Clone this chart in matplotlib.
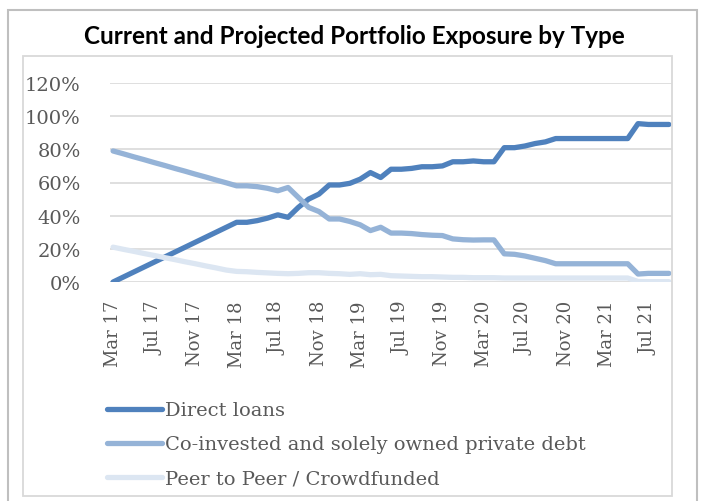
"""
plot.py

Current and projected portfolio exposure by type, monthly Mar 17 - Sep 21.
"""

import matplotlib

matplotlib.use("Agg")
import matplotlib.pyplot as plt
import matplotlib.ticker as mtick
from matplotlib.patches import Rectangle

# monthly labels, Mar 17 .. Sep 21
months = [
    "Mar 17", "Apr 17", "May 17", "Jun 17", "Jul 17", "Aug 17", "Sep 17", "Oct 17",
    "Nov 17", "Dec 17", "Jan 18", "Feb 18", "Mar 18", "Apr 18", "May 18", "Jun 18",
    "Jul 18", "Aug 18", "Sep 18", "Oct 18", "Nov 18", "Dec 18", "Jan 19", "Feb 19",
    "Mar 19", "Apr 19", "May 19", "Jun 19", "Jul 19", "Aug 19", "Sep 19", "Oct 19",
    "Nov 19", "Dec 19", "Jan 20", "Feb 20", "Mar 20", "Apr 20", "May 20", "Jun 20",
    "Jul 20", "Aug 20", "Sep 20", "Oct 20", "Nov 20", "Dec 20", "Jan 21", "Feb 21",
    "Mar 21", "Apr 21", "May 21", "Jun 21", "Jul 21", "Aug 21", "Sep 21",
]

direct_loans = [
    0, 3, 6, 9, 12, 15, 18, 21, 24, 27, 30, 33, 36, 36, 37, 38.5,
    40.5, 39, 45, 50, 53, 58.5, 58.5, 59.5, 62, 66, 63, 68, 68, 68.5, 69.5, 69.5,
    70, 72.5, 72.5, 73, 72.5, 72.5, 81, 81, 82, 83.5, 84.5, 86.5, 86.5, 86.5, 86.5, 86.5,
    86.5, 86.5, 86.5, 95.5, 95, 95, 95,
]

co_invested = [
    79, 77.3, 75.5, 73.8, 72, 70.3, 68.5, 66.8, 65, 63.3, 61.5, 59.8, 58, 58, 57.5, 56.5,
    55, 57, 51, 45, 42.5, 38, 38, 36.5, 34.5, 31, 33, 29.5, 29.5, 29.2, 28.6, 28.2,
    28, 26, 25.5, 25.3, 25.4, 25.4, 17, 16.7, 15.7, 14.3, 12.9, 11, 11, 11, 11, 11,
    11, 11, 11, 4.8, 5.2, 5.2, 5.2,
]

peer_to_peer = [
    21, 19.7, 18.5, 17.2, 16, 14.7, 13.5, 12.2, 11, 9.7, 8.5, 7.2, 6.4, 6.2, 5.8, 5.5,
    5.2, 5.0, 5.2, 5.6, 5.6, 5.2, 5.0, 4.6, 5.0, 4.4, 4.6, 3.8, 3.6, 3.4, 3.2, 3.2,
    3.0, 2.8, 2.8, 2.6, 2.6, 2.6, 2.4, 2.4, 2.4, 2.4, 2.4, 2.4, 2.4, 2.4, 2.4, 2.4,
    2.4, 2.4, 2.4, 0.3, 0.2, 0.2, 0.2,
]

series = [
    ("Direct loans", direct_loans, "#4F81BD"),
    ("Co-invested and solely owned private debt", co_invested, "#95B3D7"),
    ("Peer to Peer / Crowdfunded", peer_to_peer, "#DCE6F2"),
]

TEXT_GREY = "#595959"
GRID_GREY = "#D9D9D9"
W, H = 702, 502

plt.rcParams["font.family"] = ["DejaVu Serif"]

fig = plt.figure(figsize=(W / 100, H / 100), dpi=100)
fig.patch.set_facecolor("white")

# outer chart border and inner plot-area frame
fig.add_artist(
    Rectangle((8 / W, -0.02), 689 / W, 1.02 - 11 / H, transform=fig.transFigure,
              fill=False, edgecolor="#BFBFBF", linewidth=1.5)
)
fig.add_artist(
    Rectangle((23 / W, 5 / H), 649 / W, (H - 57 - 5) / H, transform=fig.transFigure,
              fill=False, edgecolor=GRID_GREY, linewidth=1.3)
)

fig.text(354 / W, 1 - 37 / H, "Current and Projected Portfolio Exposure by Type",
         family="Lato", weight="bold", fontsize=17.5, ha="center", va="center",
         color="black")

ax = fig.add_axes([110 / W, (H - 283) / H, 562 / W, 199 / H])
x = list(range(len(months)))
for label, values, colour in series:
    ax.plot(x, [v / 100 for v in values], color=colour, linewidth=3.8, label=label,
            solid_capstyle="round", solid_joinstyle="round")

ax.set_xlim(-0.3, len(months) - 1 + 0.3)
ax.set_ylim(0, 1.2)
ax.yaxis.set_major_locator(mtick.MultipleLocator(0.2))
ax.yaxis.set_major_formatter(mtick.PercentFormatter(1.0, 0))
ax.set_xticks(x[::4])
ax.set_xticklabels(months[::4], rotation=90, va="top", ha="center")

for s in ax.spines.values():
    s.set_visible(False)
ax.grid(True, axis="y", color=GRID_GREY, linewidth=1.2)
ax.set_axisbelow(True)
ax.tick_params(axis="both", length=0, colors=TEXT_GREY)
ax.tick_params(axis="y", pad=21, labelsize=14)
ax.tick_params(axis="x", pad=13, labelsize=13)

ax.legend(
    loc="upper left",
    bbox_to_anchor=(90 / W, 1 - 385 / H),
    bbox_transform=fig.transFigure,
    frameon=False,
    fontsize=14,
    labelcolor=TEXT_GREY,
    handlelength=2.8,
    handletextpad=0.15,
    labelspacing=0.82,
)

plt.savefig("out.png", dpi=100)
